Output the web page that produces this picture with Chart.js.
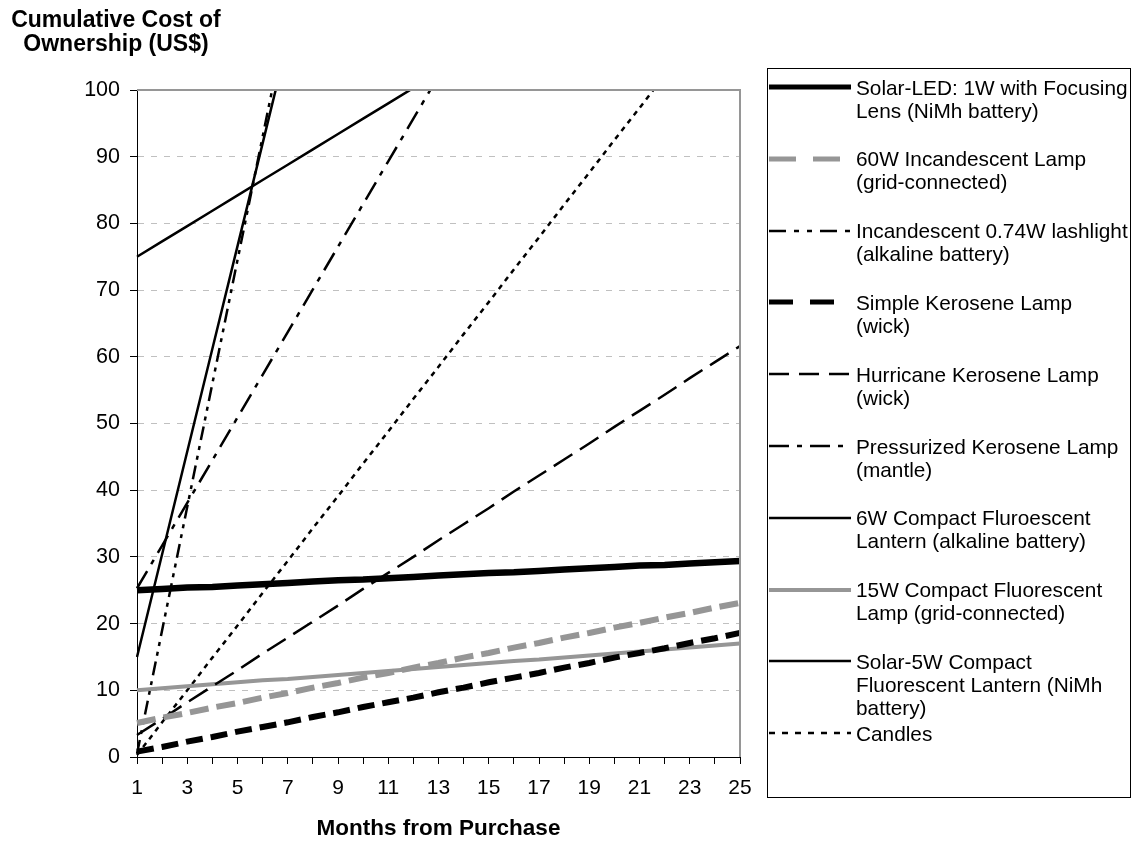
<!DOCTYPE html>
<html lang="en">
<head>
  <meta charset="UTF-8" />
  <title>Cumulative Cost of Ownership</title>
  <script src="https://cdn.jsdelivr.net/npm/chart.js@4"></script>
  <style>
    body { margin: 0; background: #fff; font-family: "Liberation Sans", Arial, sans-serif; }
    #wrap { position: relative; width: 1138px; height: 842px; }
    #heading { position: absolute; left: 0; top: 7px; width: 232px; text-align: center; font-weight: bold; font-size: 23px; line-height: 24px; color: #000; }
    #legend { position: absolute; left: 767px; top: 68px; width: 362px; height: 728px; border: 1px solid #000; }
    .item svg { position: absolute; left: 0; }
    .item .txt { position: absolute; left: 88px; font-size: 20.8px; line-height: 23px; white-space: nowrap; color: #000; }
  </style>
</head>
<body>
  <div id="wrap">
    <canvas id="chart" width="1138" height="842"></canvas>
    <div id="heading">Cumulative Cost of<br>Ownership (US$)</div>
    <div id="legend"></div>
  </div>

  <script>
    // months from purchase (x categories)
    const months = ['1', '2', '3', '4', '5', '6', '7', '8', '9', '10', '11', '12', '13',
                    '14', '15', '16', '17', '18', '19', '20', '21', '22', '23', '24', '25'];

    const seriesNames = [
      ['Solar-LED: 1W with Focusing', 'Lens (NiMh battery)'],
      ['60W Incandescent Lamp', '(grid-connected)'],
      ['Incandescent 0.74W lashlight', '(alkaline battery)'],
      ['Simple Kerosene Lamp', '(wick)'],
      ['Hurricane Kerosene Lamp', '(wick)'],
      ['Pressurized Kerosene Lamp', '(mantle)'],
      ['6W Compact Fluroescent', 'Lantern (alkaline battery)'],
      ['15W Compact Fluorescent', 'Lamp (grid-connected)'],
      ['Solar-5W Compact', 'Fluorescent Lantern (NiMh', 'battery)'],
      ['Candles']
    ];

    // cumulative cost (US$) per month
    const solarLed = [25.0, 25.2, 25.4, 25.5, 25.7, 25.9, 26.1, 26.3, 26.5, 26.6, 26.8, 27.0, 27.2,
                      27.4, 27.6, 27.7, 27.9, 28.1, 28.3, 28.5, 28.7, 28.8, 29.0, 29.2, 29.4];
    const incandescent60W = [5.1, 5.9, 6.6, 7.4, 8.1, 8.9, 9.6, 10.4, 11.1, 11.9, 12.6, 13.4, 14.1,
                             14.9, 15.6, 16.4, 17.1, 17.9, 18.6, 19.4, 20.1, 20.9, 21.6, 22.4, 23.1];
    const flashlight = [0.5, 19.0, 37.5, 56.0, 74.5, 93.0, 111.5];
    const simpleKerosene = [0.8, 1.5, 2.3, 3.0, 3.8, 4.5, 5.2, 6.0, 6.7, 7.5, 8.2, 8.9, 9.7,
                            10.4, 11.2, 11.9, 12.6, 13.4, 14.1, 14.9, 15.6, 16.3, 17.1, 17.8, 18.6];
    const hurricaneKerosene = [3.3, 5.7, 8.2, 10.6, 13.0, 15.5, 17.9, 20.3, 22.7, 25.2, 27.6, 30.0, 32.5,
                               34.9, 37.3, 39.8, 42.2, 44.6, 47.0, 49.5, 51.9, 54.3, 56.8, 59.2, 61.6];
    const pressurizedKerosene = [25.3, 31.7, 38.1, 44.5, 50.9, 57.3, 63.7, 70.1, 76.5, 82.9, 89.3, 95.7, 102.1];
    const cfl6W = [15.0, 30.4, 45.8, 61.2, 76.6, 92.0, 107.4];
    const cfl15W = [10.0, 10.3, 10.6, 10.9, 11.2, 11.5, 11.7, 12.0, 12.3, 12.6, 12.9, 13.2, 13.5,
                    13.8, 14.1, 14.4, 14.6, 14.9, 15.2, 15.5, 15.8, 16.1, 16.4, 16.7, 17.0];
    const solarCfl5W = [75.0, 77.3, 79.6, 81.9, 84.2, 86.5, 88.8, 91.1, 93.4, 95.7, 98.0, 100.3];
    const candles = [0.3, 5.2, 10.0, 14.9, 19.7, 24.6, 29.4, 34.3, 39.1, 44.0, 48.8,
                     53.7, 58.5, 63.4, 68.2, 73.1, 77.9, 82.8, 87.6, 92.5, 97.3, 102.2];

    const allSeries = [solarLed, incandescent60W, flashlight, simpleKerosene, hurricaneKerosene,
                       pressurizedKerosene, cfl6W, cfl15W, solarCfl5W, candles];

    const GRAY = '#969696';
    const styles = [
      { color: '#000', width: 6.5, dash: [],              legendDash: [] },
      { color: GRAY,   width: 6,   dash: [19, 8],          legendDash: [27, 17] },
      { color: '#000', width: 2.5, dash: [14, 6, 4, 6, 4, 6], legendDash: [17, 8, 5, 8, 5, 8] },
      { color: '#000', width: 6,   dash: [17, 8],          legendDash: [24, 17] },
      { color: '#000', width: 2.5, dash: [22, 9],          legendDash: [20, 10] },
      { color: '#000', width: 2.5, dash: [20, 8, 5, 8],    legendDash: [20, 8, 5, 8] },
      { color: '#000', width: 2.5, dash: [],              legendDash: [] },
      { color: GRAY,   width: 4,   dash: [],              legendDash: [] },
      { color: '#000', width: 2.5, dash: [],              legendDash: [] },
      { color: '#000', width: 2.5, dash: [5, 5],           legendDash: [6, 7] }
    ];

    // gray frame on top/right of the plot area
    const frame = {
      id: 'frame',
      afterDatasetsDraw(chart) {
        const { ctx, chartArea: a } = chart;
        ctx.save();
        ctx.strokeStyle = GRAY;
        ctx.lineWidth = 2;
        ctx.beginPath();
        ctx.moveTo(a.left, a.top);
        ctx.lineTo(a.right, a.top);
        ctx.lineTo(a.right, a.bottom);
        ctx.stroke();
        ctx.restore();
      }
    };

    const FONT = '"Liberation Sans", Arial, sans-serif';

    const chart = new Chart(document.getElementById('chart'), {
      type: 'line',
      data: {
        labels: months,
        datasets: allSeries.map((s, i) => ({
          label: seriesNames[i].join(' '),
          data: s,
          borderColor: styles[i].color,
          borderWidth: styles[i].width,
          borderDash: styles[i].dash,
          pointRadius: 0,
          tension: 0,
          fill: false
        }))
      },
      options: {
        responsive: false,
        animation: false,
        layout: { padding: { top: 90, right: 398, left: 0, bottom: 0 } },
        plugins: { legend: { display: false }, tooltip: { enabled: false } },
        scales: {
          x: {
            type: 'category',
            afterFit(scale) { scale.height = 85; },
            grid: { drawOnChartArea: false, drawTicks: true, tickLength: 7, tickColor: '#000' },
            border: { color: '#000', width: 1 },
            ticks: {
              autoSkip: false, maxRotation: 0, padding: 12, color: '#000',
              font: { family: FONT, size: 21 },
              callback(v, i) { return i % 2 === 0 ? this.getLabelForValue(v) : ''; }
            },
            title: {
              display: true, text: 'Months from Purchase', color: '#000',
              font: { family: FONT, size: 22.5, weight: 'bold' },
              padding: { top: 0, bottom: 0 }
            }
          },
          y: {
            min: 0, max: 100,
            afterFit(scale) { scale.width = 137; },
            grid: {
              color: c => (c.tick && c.tick.value > 0 && c.tick.value < 100) ? '#c0c0c0' : 'rgba(0,0,0,0)',
              tickColor: '#000', tickLength: 7, lineWidth: 1
            },
            border: { color: '#000', width: 1, dash: [6, 7] },
            ticks: { stepSize: 10, padding: 10, color: '#000', font: { family: FONT, size: 21.5 } }
          }
        }
      },
      plugins: [frame]
    });

    // html legend built from the chart's datasets
    const legend = document.getElementById('legend');
    chart.data.datasets.forEach((ds, i) => {
      const st = styles[i];
      const center = 87 + 71.8 * i - 69;
      const item = document.createElement('div');
      item.className = 'item';
      const dash = st.legendDash.length ? `stroke-dasharray="${st.legendDash.join(' ')}"` : '';
      item.innerHTML = `
        <svg width="84" height="10" style="top:${center - 5}px">
          <line x1="1" y1="5" x2="83" y2="5" stroke="${st.color}" stroke-width="${Math.min(st.width, 5)}" ${dash} />
        </svg>
        <div class="txt" style="top:${center - 11.5}px">${seriesNames[i].join('<br>')}</div>`;
      legend.appendChild(item);
    });
  </script>
</body>
</html>
